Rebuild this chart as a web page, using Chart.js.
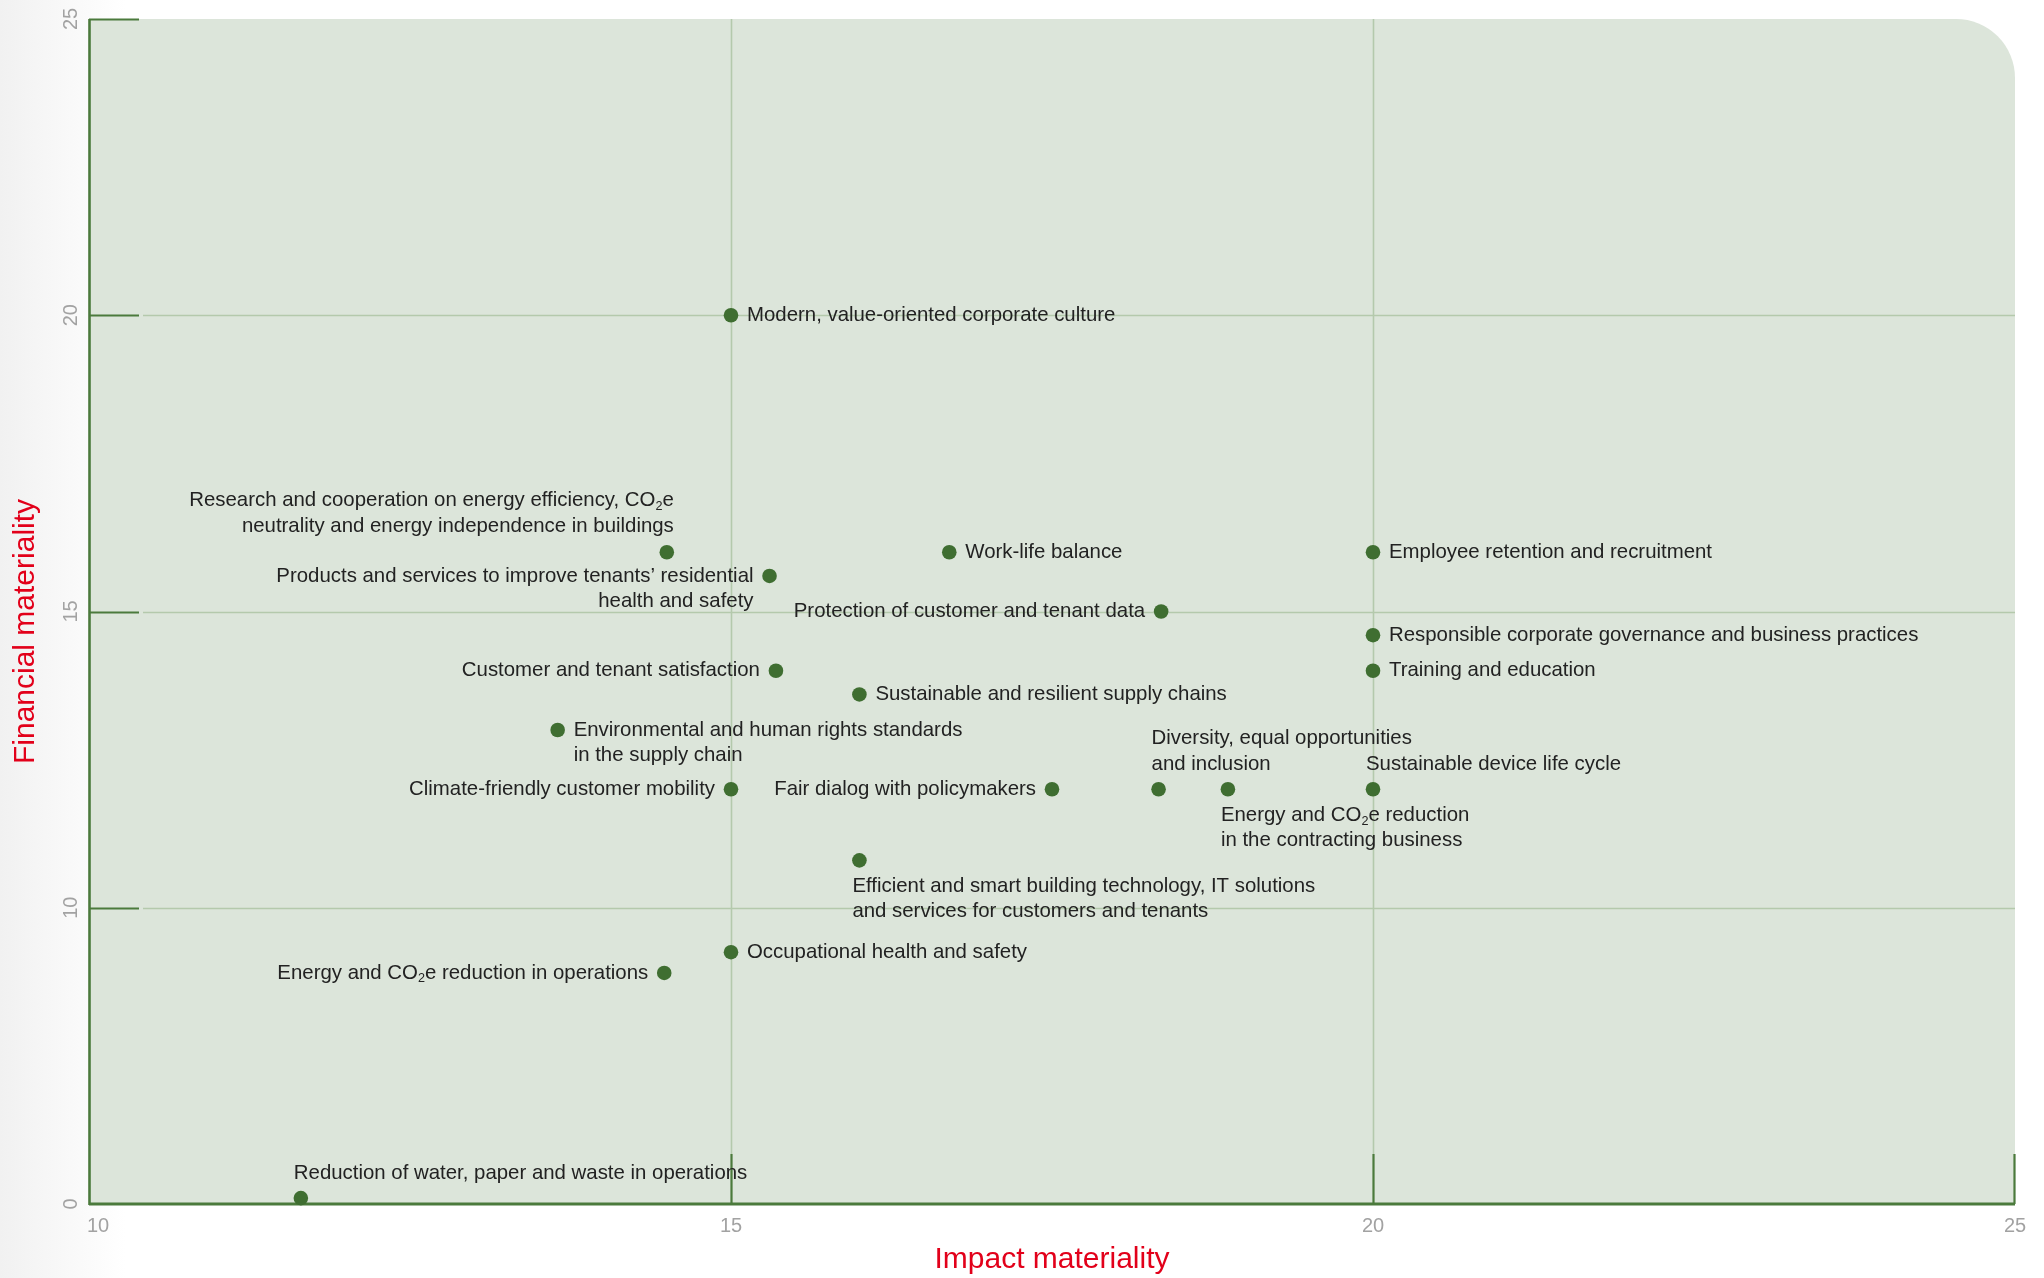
<!DOCTYPE html>
<html>
<head>
<meta charset="utf-8">
<script src="https://cdn.jsdelivr.net/npm/chart.js@4.4.1/dist/chart.umd.min.js"></script>
<style>
  html, body { margin: 0; padding: 0; background: #ffffff; overflow: hidden; }
  #wrap { width: 2044px; height: 1278px; position: relative; }
  canvas { display: block; }
</style>
</head>
<body>
<div id="wrap"><canvas id="chart" width="2044" height="1278"></canvas></div>
<script>
// ---------------- DATA ----------------
const topics = [
  "Modern, value-oriented corporate culture",
  "Research and cooperation on energy efficiency, CO₂e\nneutrality and energy independence in buildings",
  "Products and services to improve tenants’ residential\nhealth and safety",
  "Work-life balance",
  "Employee retention and recruitment",
  "Protection of customer and tenant data",
  "Responsible corporate governance and business practices",
  "Training and education",
  "Customer and tenant satisfaction",
  "Sustainable and resilient supply chains",
  "Environmental and human rights standards\nin the supply chain",
  "Climate-friendly customer mobility",
  "Fair dialog with policymakers",
  "Diversity, equal opportunities\nand inclusion",
  "Energy and CO₂e reduction\nin the contracting business",
  "Sustainable device life cycle",
  "Efficient and smart building technology, IT solutions\nand services for customers and tenants",
  "Occupational health and safety",
  "Energy and CO₂e reduction in operations",
  "Reduction of water, paper and waste in operations"
];
const impact    = [15, 14.5, 15.3, 16.7, 20, 18.35, 20, 20, 15.35, 16, 13.65, 15, 17.5, 18.33, 18.87, 20, 16, 15, 14.48, 11.65];
const financial = [20, 16, 15.6, 16, 16, 15, 14.6, 14, 14, 13.6, 13, 12, 12, 12, 12, 12, 10.8, 8.5, 7.8, 0.2];

const impactTicks = [10, 15, 20, 25];
const financialTicks = [0, 10, 15, 20, 25];
const xTitle = "Impact materiality";
const yTitle = "Financial materiality";

// label placement relative to each point (layout, not data)
const labelSide = ["right","aboveEnd","left","right","right","left","right","right","left","right",
                   "right","left","left","above","below","above","below","right","left","above"];

// ---------------- STYLE ----------------
const COL = {
  fill: '#dce5da', grid: '#b4c9ac', axis: '#4b7a3c', dot: '#3f6e31',
  text: '#222222', tick: '#a2a2a2', title: '#e2001a'
};
const LABEL_FONT = '"Liberation Sans", Arial, sans-serif';
const LABEL_SIZE = 20.4;
const LINE_H = 25.5;

// broken financial axis: the 0–10 segment is compressed into one tick interval
const AXIS_LOW = 5, BREAK_AT = 10;
function foldFinancial(v) {
  return v < BREAK_AT ? AXIS_LOW + v * (BREAK_AT - AXIS_LOW) / BREAK_AT : v;
}
class BrokenLinearScale extends Chart.LinearScale {
  getPixelForValue(value) {
    return super.getPixelForValue(foldFinancial(value));
  }
}
BrokenLinearScale.id = 'brokenLinear';
BrokenLinearScale.defaults = Chart.LinearScale.defaults;
Chart.register(BrokenLinearScale);

// rich text drawing (handles subscript ₂)
function segs(text) {
  const out = [];
  let buf = '';
  for (const ch of text) {
    if (ch === '₂') { if (buf) out.push({t: buf, sub: false}); buf = ''; out.push({t: '2', sub: true}); }
    else buf += ch;
  }
  if (buf) out.push({t: buf, sub: false});
  return out;
}
function richWidth(ctx, text) {
  let w = 0;
  for (const s of segs(text)) {
    ctx.font = (s.sub ? LABEL_SIZE * 0.62 : LABEL_SIZE) + 'px ' + LABEL_FONT;
    w += ctx.measureText(s.t).width;
  }
  return w;
}
function drawRich(ctx, text, x, y, align) {
  const w = richWidth(ctx, text);
  let cx = align === 'right' ? x - w : x;
  ctx.textAlign = 'left';
  ctx.textBaseline = 'middle';
  for (const s of segs(text)) {
    ctx.font = (s.sub ? LABEL_SIZE * 0.62 : LABEL_SIZE) + 'px ' + LABEL_FONT;
    ctx.fillText(s.t, cx, s.sub ? y + 6 : y);
    cx += ctx.measureText(s.t).width;
  }
}

const framePlugin = {
  id: 'materialityFrame',
  beforeDraw(chart) {
    const {ctx, chartArea: a, scales: {x, y}} = chart;
    ctx.save();
    ctx.fillStyle = '#ffffff';
    ctx.fillRect(0, 0, chart.width, chart.height);
    const g = ctx.createLinearGradient(0, 0, 125, 0);
    g.addColorStop(0, '#f1f1f1');
    g.addColorStop(1, '#ffffff');
    ctx.fillStyle = g;
    ctx.fillRect(0, 0, 125, chart.height);

    // plot background with rounded top-right corner
    const r = 59;
    ctx.beginPath();
    ctx.moveTo(a.left, a.top);
    ctx.lineTo(a.right - r, a.top);
    ctx.arcTo(a.right, a.top, a.right, a.top + r, r);
    ctx.lineTo(a.right, a.bottom);
    ctx.lineTo(a.left, a.bottom);
    ctx.closePath();
    ctx.fillStyle = COL.fill;
    ctx.fill();

    const TL = 50;
    // light grid
    ctx.strokeStyle = COL.grid;
    ctx.lineWidth = 1.6;
    impactTicks.forEach(v => {
      if (v === impactTicks[0] || v === impactTicks[impactTicks.length - 1]) return;
      const px = Math.round(x.getPixelForValue(v)) + 0.5;
      ctx.beginPath(); ctx.moveTo(px, a.top); ctx.lineTo(px, a.bottom - TL); ctx.stroke();
    });
    financialTicks.forEach(v => {
      if (v === financialTicks[0] || v === financialTicks[financialTicks.length - 1]) return;
      const py = Math.round(y.getPixelForValue(v)) + 0.5;
      ctx.beginPath(); ctx.moveTo(a.left + TL + 4, py); ctx.lineTo(a.right, py); ctx.stroke();
    });

    // dark axis lines and inner ticks
    ctx.strokeStyle = COL.axis;
    ctx.lineWidth = 2.2;
    financialTicks.forEach(v => {
      if (v === financialTicks[0]) return;
      const py = Math.round(y.getPixelForValue(v)) + 0.5;
      ctx.beginPath(); ctx.moveTo(a.left, py); ctx.lineTo(a.left + TL, py); ctx.stroke();
    });
    impactTicks.forEach(v => {
      if (v === impactTicks[0]) return;
      let px = Math.round(x.getPixelForValue(v)) + 0.5;
      if (v === impactTicks[impactTicks.length - 1]) px -= 1;
      ctx.beginPath(); ctx.moveTo(px, a.bottom); ctx.lineTo(px, a.bottom - TL); ctx.stroke();
    });
    ctx.lineWidth = 2.6;
    ctx.beginPath(); ctx.moveTo(a.left + 0.5, a.top); ctx.lineTo(a.left + 0.5, a.bottom + 1); ctx.stroke();
    ctx.lineWidth = 3;
    ctx.beginPath(); ctx.moveTo(a.left, a.bottom); ctx.lineTo(a.right, a.bottom); ctx.stroke();

    // tick labels
    ctx.fillStyle = COL.tick;
    ctx.font = '20px "Liberation Sans", Arial, sans-serif';
    ctx.textBaseline = 'middle';
    impactTicks.forEach((v, i) => {
      const px = x.getPixelForValue(v);
      ctx.textAlign = i === 0 ? 'left' : 'center';
      ctx.fillText(String(v), i === 0 ? px - 2 : px, a.bottom + 22);
    });
    financialTicks.forEach(v => {
      const py = y.getPixelForValue(v);
      ctx.save();
      ctx.translate(a.left - 18, py);
      ctx.rotate(-Math.PI / 2);
      ctx.textAlign = 'center';
      ctx.fillText(String(v), 0, 0);
      ctx.restore();
    });

    // axis titles
    ctx.fillStyle = COL.title;
    ctx.font = '30px "Liberation Sans", Arial, sans-serif';
    ctx.textAlign = 'center';
    ctx.textBaseline = 'middle';
    ctx.fillText(xTitle, (a.left + a.right) / 2, a.bottom + 56);
    ctx.save();
    ctx.translate(26, (a.top + a.bottom) / 2 + 20);
    ctx.rotate(-Math.PI / 2);
    ctx.fillText(yTitle, 0, 0);
    ctx.restore();
    ctx.restore();
  },
  afterDatasetsDraw(chart) {
    const {ctx} = chart;
    const meta = chart.getDatasetMeta(0);
    ctx.save();
    ctx.fillStyle = COL.text;
    meta.data.forEach((pt, i) => {
      const lines = topics[i].split('\n');
      const side = labelSide[i];
      const n = lines.length;
      lines.forEach((ln, k) => {
        let tx, ty, al;
        if (side === 'right') { tx = pt.x + 16; ty = pt.y + k * LINE_H; al = 'left'; }
        else if (side === 'left') { tx = pt.x - 16; ty = pt.y + k * LINE_H; al = 'right'; }
        else if (side === 'above') { tx = pt.x - 7; ty = pt.y - 25 - (n - 1 - k) * LINE_H; al = 'left'; }
        else if (side === 'aboveEnd') { tx = pt.x + 7; ty = pt.y - 26 - (n - 1 - k) * LINE_H; al = 'right'; }
        else { tx = pt.x - 7; ty = pt.y + 26 + k * LINE_H; al = 'left'; }
        drawRich(ctx, ln, tx, ty, al);
      });
    });
    ctx.restore();
  }
};

const points = impact.map((v, i) => ({x: v, y: financial[i]}));

new Chart(document.getElementById('chart'), {
  type: 'scatter',
  data: {
    datasets: [{
      label: 'Material topics',
      data: points,
      backgroundColor: COL.dot,
      borderWidth: 0,
      pointRadius: 7.3,
      pointHoverRadius: 7.3,
      clip: false
    }]
  },
  options: {
    responsive: false,
    animation: false,
    devicePixelRatio: 1,
    events: [],
    layout: { autoPadding: false, padding: { top: 19, right: 29, left: 0, bottom: 0 } },
    plugins: { legend: { display: false }, tooltip: { enabled: false } },
    scales: {
      x: {
        type: 'linear',
        min: impactTicks[0],
        max: impactTicks[impactTicks.length - 1],
        afterBuildTicks: s => { s.ticks = impactTicks.map(v => ({value: v})); },
        afterFit: s => { s.height = 74; },
        ticks: { display: false },
        grid: { display: false },
        border: { display: false }
      },
      y: {
        type: 'brokenLinear',
        min: AXIS_LOW,
        max: financialTicks[financialTicks.length - 1],
        afterBuildTicks: s => { s.ticks = financialTicks.map(v => ({value: v})); },
        afterFit: s => { s.width = 89; },
        ticks: { display: false },
        grid: { display: false },
        border: { display: false }
      }
    }
  },
  plugins: [framePlugin]
});
</script>
</body>
</html>
